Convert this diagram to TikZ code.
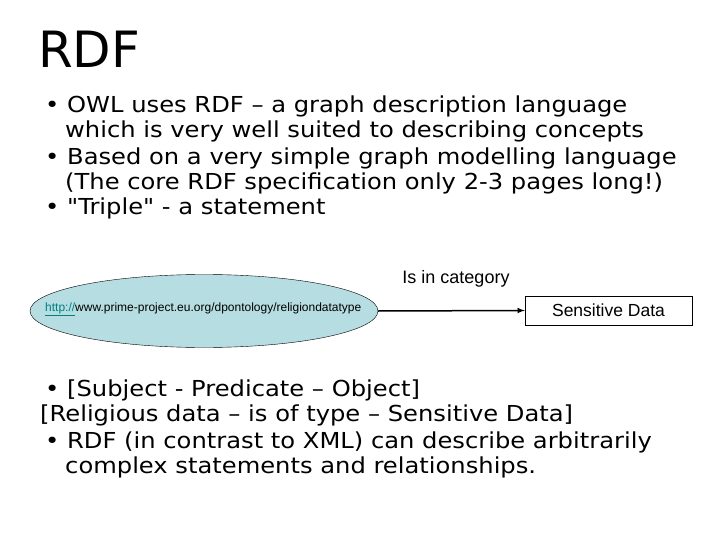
\documentclass[tikz,border=0pt]{standalone}
\usepackage{fontspec}
\usetikzlibrary{shapes.geometric}
\setmainfont{DejaVu Sans}
\newfontfamily\bodyfont[FakeStretch=1.1]{DejaVu Sans}
\newfontfamily\arial{Liberation Sans}
\definecolor{ellfill}{RGB}{182,221,226}
\begin{document}
\begin{tikzpicture}[x=1pt,y=-1pt,
  body/.style={anchor=west,inner sep=0pt,font=\bodyfont\fontsize{22}{26}\selectfont},
  lbl/.style={font=\arial\fontsize{18}{21}\selectfont}]
\useasboundingbox (0,0) rectangle (720,540);
\node[anchor=base west,inner sep=0pt,font=\fontsize{50}{60}\selectfont] (title) at (38,68) {RDF};
\node[body] (b1) at (45,106) {• OWL uses RDF – a graph description language};
\node[body] (b1b) at (65,131) {which is very well suited to describing concepts};
\node[body] (b2) at (45,158) {• Based on a very simple graph modelling language};
\node[body] (b2b) at (65,183) {(The core RDF specification only 2-3 pages long!)};
\node[body] (b3) at (45,208) {• \symbol{34}Triple\symbol{34} - a statement};
\node[draw=black,fill=ellfill,ellipse,minimum width=348,minimum height=73,inner sep=0pt] (e) at (204,311) {};
\node[font=\arial\fontsize{12}{14}\selectfont,anchor=west,inner sep=0pt] (u) at (45,309) {\textcolor{teal}{\underline{http://}}www.prime-project.eu.org/dpontology/religiondatatype};
\node[draw=black,minimum width=167,minimum height=29,inner sep=0pt,font=\arial\fontsize{17.5}{21}\selectfont] (s) at (608.5,310.5) {Sensitive Data};
\draw[-latex,line width=1.5pt] (e.east) -- (s.west);
\node[lbl] (c) at (456,279) {Is in category};
\node[body] (l1) at (45,390) {• [Subject - Predicate – Object]};
\node[body] (l2) at (40,415) {[Religious data – is of type – Sensitive Data]};
\node[body] (l3) at (45,442) {• RDF (in contrast to XML) can describe arbitrarily};
\node[body] (l4) at (65,467) {complex statements and relationships.};
\end{tikzpicture}
\end{document}
